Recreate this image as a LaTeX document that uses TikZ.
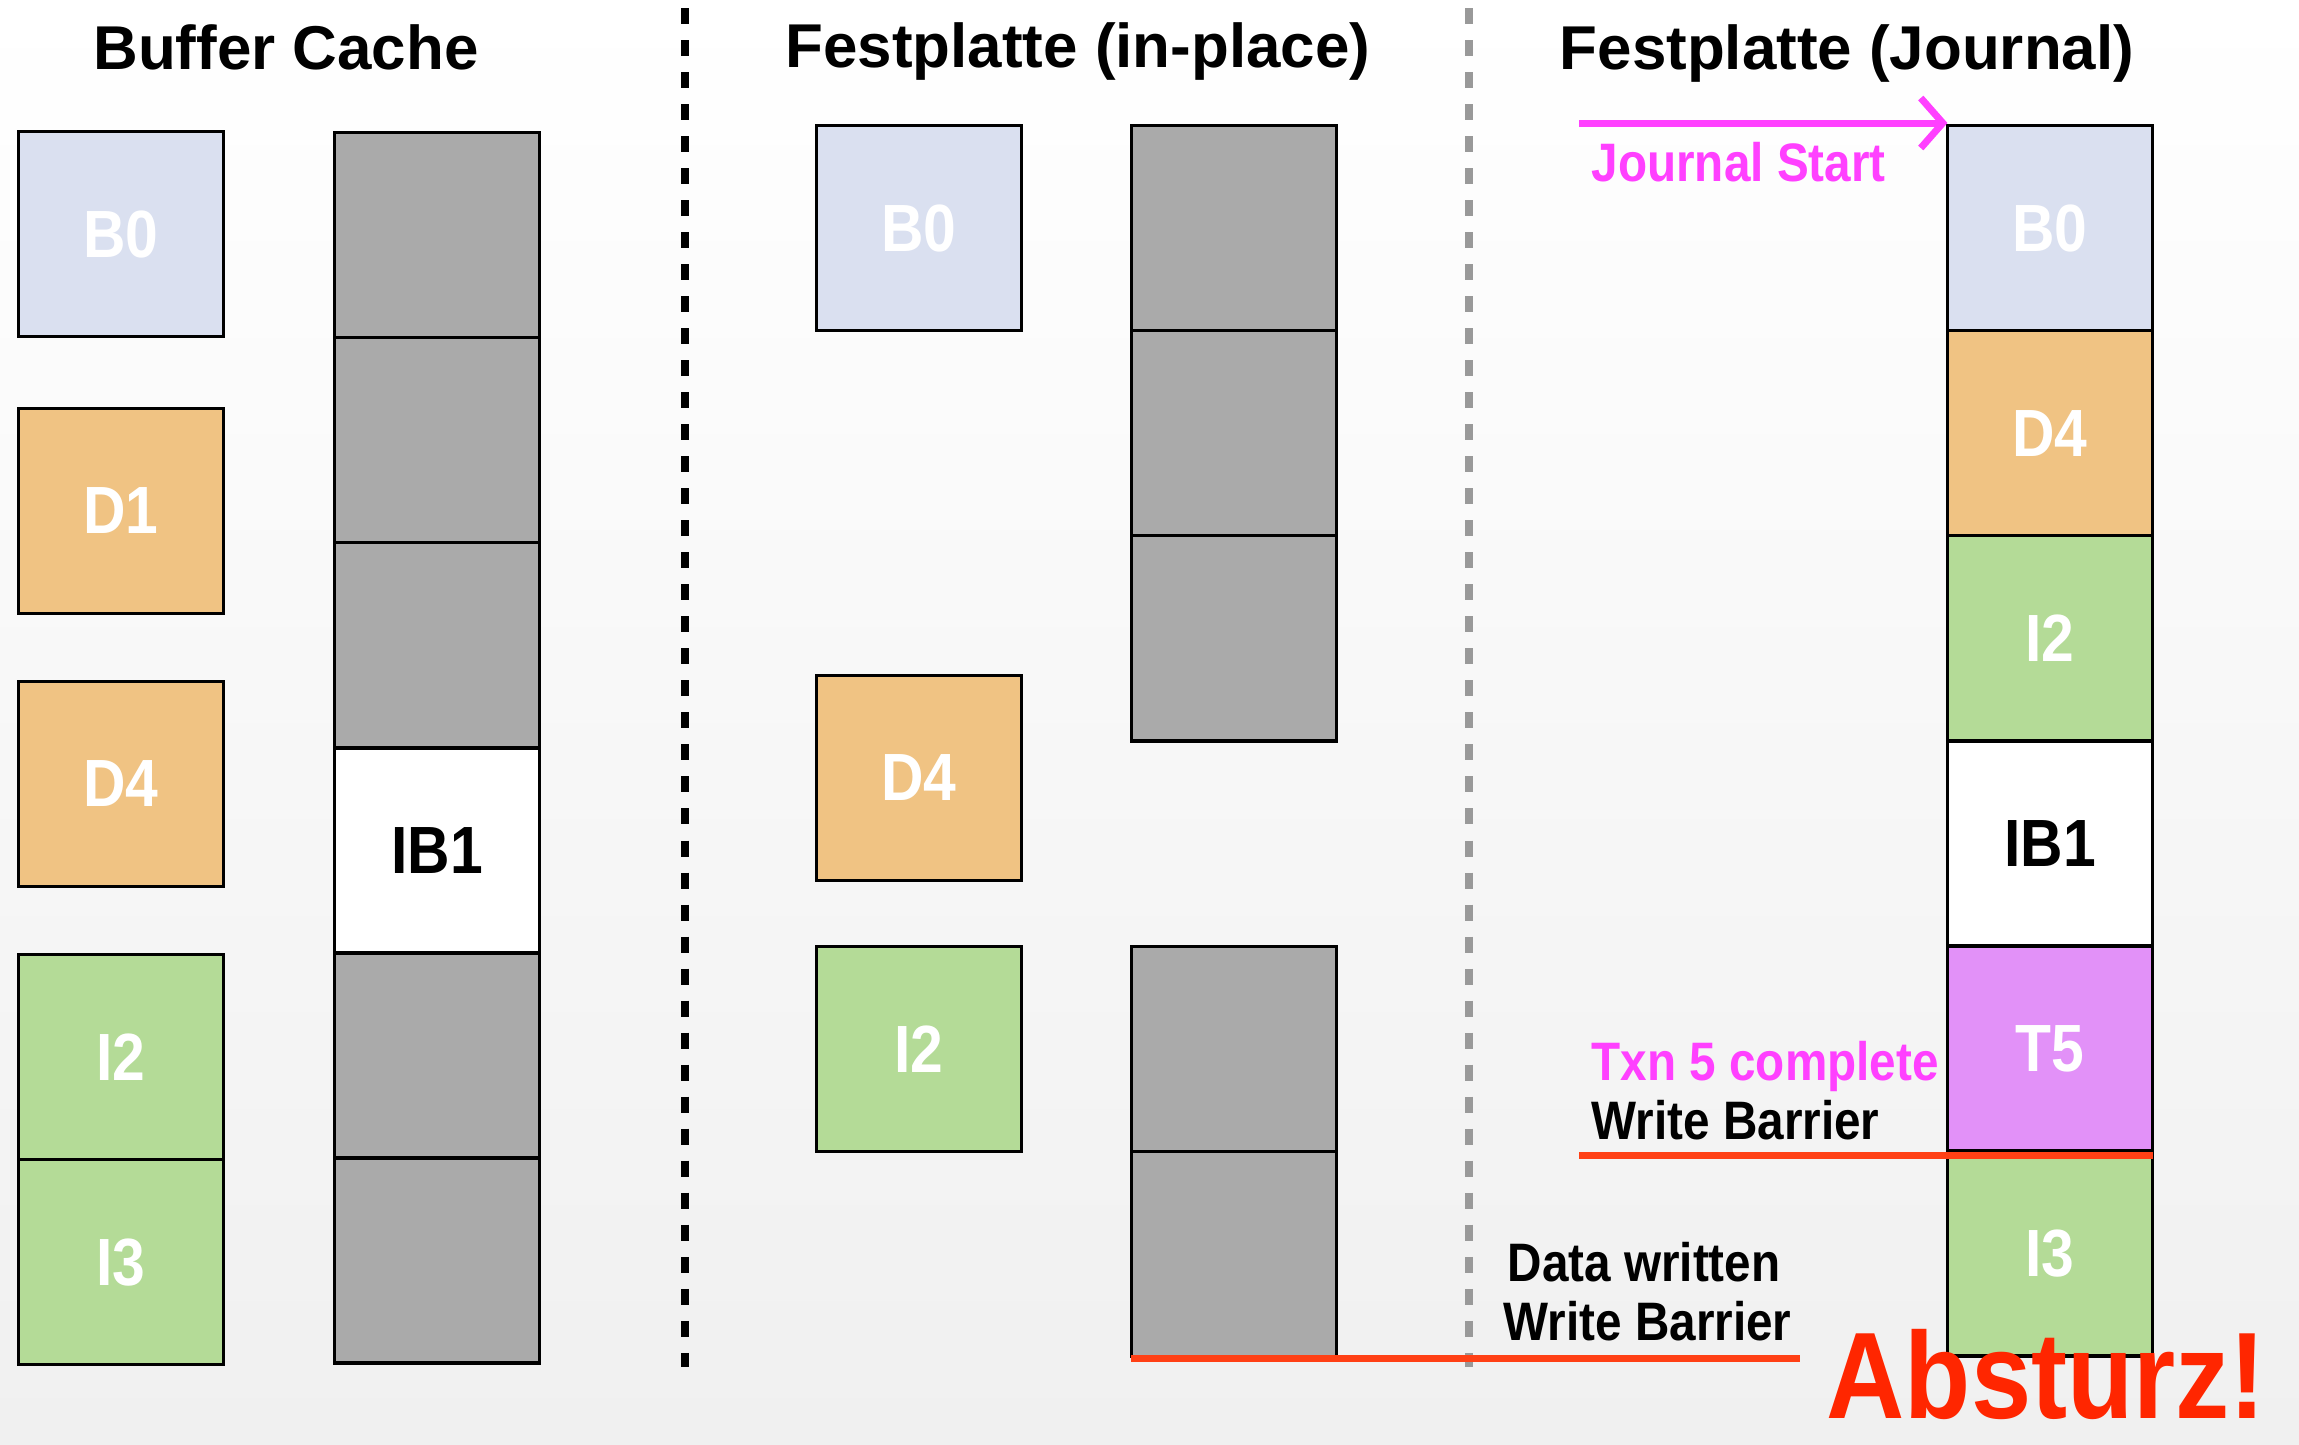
\documentclass[tikz,border=0pt]{standalone}
\usepackage{fontspec}
\setmainfont{Liberation Sans}
\newfontfamily\condfont{Liberation Sans}[FakeStretch=0.88]
\usepackage{tikz}
\usetikzlibrary{arrows.meta,positioning}
\definecolor{bzblue}{RGB}{218,224,240}
\definecolor{dorange}{RGB}{240,195,131}
\definecolor{igreen}{RGB}{180,219,151}
\definecolor{cellgray}{RGB}{170,170,170}
\definecolor{tpurple}{RGB}{226,145,248}
\definecolor{jmagenta}{RGB}{255,64,255}
\definecolor{barred}{RGB}{255,64,21}
\definecolor{crashred}{RGB}{255,38,0}
\definecolor{sepgray}{RGB}{153,153,153}
\definecolor{bgbot}{RGB}{240,240,240}
\tikzset{
  cell/.style={draw, line width=1pt, minimum width=2.05cm, minimum height=2.05cm, inner sep=0pt, outer sep=0pt, font=\condfont\bfseries\fontsize{19}{22}\selectfont, text=white},
  bzero/.style={cell, fill=bzblue},
  dblk/.style={cell, fill=dorange},
  iblk/.style={cell, fill=igreen},
  gblk/.style={cell, fill=cellgray},
  ibblk/.style={cell, fill=white, text=black},
  tblk/.style={cell, fill=tpurple},
  title/.style={anchor=base, inner sep=0pt, font=\bfseries\fontsize{17.6}{20}\selectfont},
  note/.style={anchor=base west, inner sep=0pt, font=\condfont\bfseries\fontsize{15.4}{18}\selectfont},
  sepline/.style={line width=0.08cm, dash pattern=on 0.16cm off 0.16cm},
  barrier/.style={line width=0.07cm, barred},
  jarrow/.style={-{Straight Barb[length=0.22cm,width=0.5cm]}, line width=0.07cm, jmagenta}
}
\begin{document}
\begin{tikzpicture}[x=0.01cm,y=-0.01cm]
  \shade[top color=white, middle color=white, bottom color=bgbot] (0,0) rectangle (2299,1445);
  \useasboundingbox (0,0) rectangle (2299,1445);
  % titles
  \node[title] (tcache) at (286,69) {Buffer Cache};
  \node[title] (tplace) at (1078,67) {Festplatte (in-place)};
  \node[title] (tjour) at (1847,69) {Festplatte (Journal)};
  % separators
  \coordinate (sepa) at (685,8);
  \coordinate (sepb) at (685,1367);
  \coordinate (sepc) at (1469,8);
  \coordinate (sepd) at (1469,1367);
  \draw[sepline, black] (sepa) -- (sepb);
  \draw[sepline, sepgray] (sepc) -- (sepd);
  % buffer cache
  \node[bzero] (cb0) at (121,234) {B0};
  \node[dblk] (cd1) at (121,511) {D1};
  \node[dblk] (cd4) at (121,784) {D4};
  \node[iblk] (ci2) at (121,1057) {I2};
  \node[iblk,below=0pt of ci2] (ci3) {I3};
  \node[gblk] (cg1) at (437,235) {};
  \node[gblk,below=0pt of cg1] (cg2) {};
  \node[gblk,below=0pt of cg2] (cg3) {};
  \node[ibblk,below=0pt of cg3] (cib1) {IB1};
  \node[gblk,below=0pt of cib1] (cg5) {};
  \node[gblk,below=0pt of cg5] (cg6) {};
  % disk, in-place
  \node[bzero] (pb0) at (919,228) {B0};
  \node[dblk] (pd4) at (919,778) {D4};
  \node[iblk] (pi2) at (919,1049) {I2};
  \node[gblk] (pg1) at (1234,228) {};
  \node[gblk,below=0pt of pg1] (pg2) {};
  \node[gblk,below=0pt of pg2] (pg3) {};
  \node[gblk] (pg4) at (1234,1049) {};
  \node[gblk,below=0pt of pg4] (pg5) {};
  % disk, journal
  \node[bzero] (jb0) at (2050,228) {B0};
  \node[dblk,below=0pt of jb0] (jd4) {D4};
  \node[iblk,below=0pt of jd4] (ji2) {I2};
  \node[ibblk,below=0pt of ji2] (jib1) {IB1};
  \node[tblk,below=0pt of jib1] (jt5) {T5};
  \node[iblk,below=0pt of jt5] (ji3) {I3};
  % journal marks
  \coordinate (jstart) at (1579,123);
  \draw[jarrow] (jstart) -- (jstart -| jb0.west);
  \node[note, text=jmagenta] (jlabel) at (1591,181) {Journal Start};
  \node[note, text=jmagenta] (txn) at (1591,1080) {Txn 5 complete};
  \node[note] (wbtop) at (1591,1139) {Write Barrier};
  \coordinate (wbline) at (1579,1155);
  \draw[barrier] (wbline) -- (wbline -| jt5.east);
  \node[note] (dwr) at (1507,1281) {Data written};
  \node[note] (wbbot) at (1503,1340) {Write Barrier};
  \coordinate (dwend) at (1800,1358);
  \draw[barrier] (pg5.south west |- dwend) -- (dwend);
  \node[anchor=base west, inner sep=0pt, text=crashred, font=\condfont\bfseries\fontsize{35}{40}\selectfont] (crash) at (1826,1418) {Absturz!};
\end{tikzpicture}
\end{document}
